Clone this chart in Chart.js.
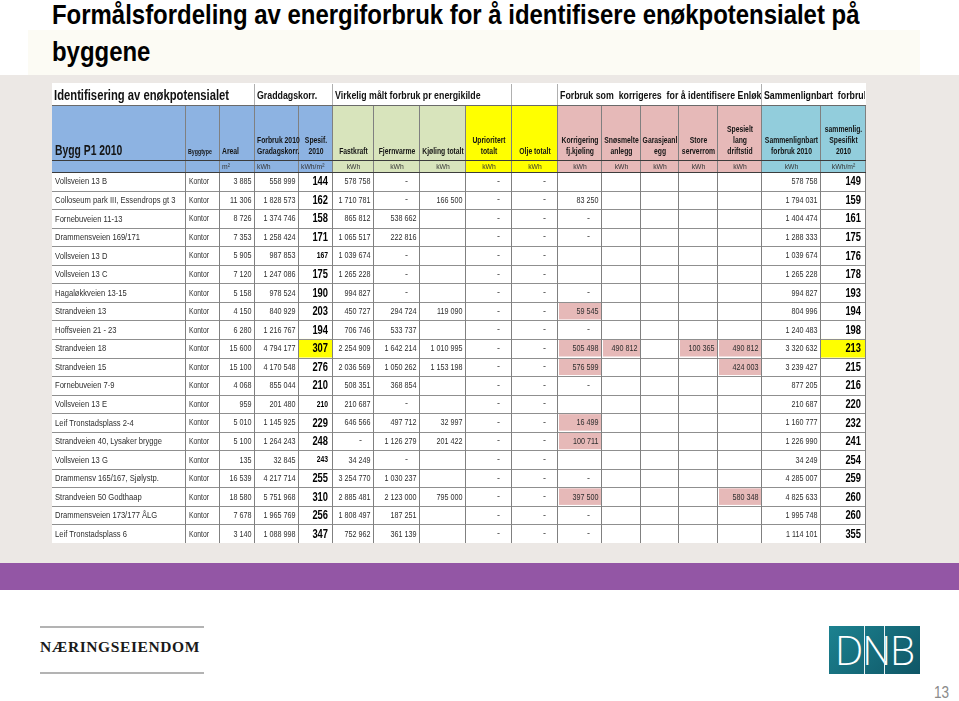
<!DOCTYPE html>
<html lang="no">
<head>
<meta charset="utf-8">
<title>Formålsfordeling av energiforbruk</title>
<script src="https://cdn.jsdelivr.net/npm/chart.js@4.4.1/dist/chart.umd.min.js"></script>
<style>
  body { margin: 0; width: 959px; height: 701px; position: relative; overflow: hidden; background: #fff; }
  #titlebg { position: absolute; left: 28px; top: 30px; width: 892px; height: 45px; background: #fcfbf4; }
  #title { position: absolute; left: 52px; top: -4px; width: 1000px; font: bold 28px "Liberation Sans", Arial, sans-serif; line-height: 37px; color: #000; transform: scaleX(0.855); transform-origin: 0 0; }
  #bg { position: absolute; left: 0; top: 75px; width: 959px; height: 488px; background: #ece8e5; }
  #band { position: absolute; left: 0; top: 563px; width: 959px; height: 27px; background: #9356a5; }
  #tablebox { position: absolute; left: 52px; top: 83px; width: 814px; height: 460px; background: #fff; }
  .rule { position: absolute; left: 40px; width: 164px; height: 2px; background: #b3b3b3; }
  #brand { position: absolute; left: 40px; top: 638px; font: 600 15.5px "Liberation Serif", "DejaVu Serif", serif; letter-spacing: 0.6px; color: #1a1a1a; }
  #dnb { position: absolute; left: 829px; top: 626px; width: 91px; height: 48px; background: linear-gradient(135deg, #1c8290, #0f5666); color: #fff; font: 300 40px "Open Sans", sans-serif; line-height: 48px; text-align: center; letter-spacing: -1px; }
  #dnb i { position: absolute; top: 0; width: 1px; height: 48px; background: #e8f2f4; }
  #page { position: absolute; left: 934px; top: 683px; font: 17px "Liberation Sans", sans-serif; color: #8a8a8a; transform: scaleX(0.8); transform-origin: 0 0; }
</style>
</head>
<body>
<div id="titlebg"></div>
<div id="title">Formålsfordeling av energiforbruk for å identifisere enøkpotensialet på<br>byggene</div>
<div id="bg"></div>
<div id="band"></div>
<div id="tablebox"><canvas id="tableChart" width="814" height="460"></canvas></div>
<div class="rule" style="top:626px"></div>
<div id="brand">NÆRINGSEIENDOM</div>
<div class="rule" style="top:672px"></div>
<div id="dnb">DNB<i style="left:35px"></i><i style="left:55px"></i></div>
<div id="page">13</div>

<script>
const bygg = ['Vollsveien 13 B', 'Colloseum park III, Essendrops gt 3', 'Fornebuveien 11-13', 'Drammensveien 169/171',
  'Vollsveien 13 D', 'Vollsveien 13 C', 'Hagaløkkveien 13-15', 'Strandveien 13', 'Hoffsveien 21 - 23', 'Strandveien 18',
  'Strandveien 15', 'Fornebuveien 7-9', 'Vollsveien 13 E', 'Leif Tronstadsplass 2-4', 'Strandveien 40, Lysaker brygge',
  'Vollsveien 13 G', 'Drammensv 165/167, Sjølystp.', 'Strandveien 50 Godthaap', 'Drammensveien 173/177 ÅLG', 'Leif Tronstadsplass 6'];
const byggtype = ['Kontor', 'Kontor', 'Kontor', 'Kontor', 'Kontor', 'Kontor', 'Kontor', 'Kontor', 'Kontor', 'Kontor',
  'Kontor', 'Kontor', 'Kontor', 'Kontor', 'Kontor', 'Kontor', 'Kontor', 'Kontor', 'Kontor', 'Kontor'];
const areal = [3885, 11306, 8726, 7353, 5905, 7120, 5158, 4150, 6280, 15600, 15100, 4068, 959, 5010, 5100, 135, 16539, 18580, 7678, 3140];
const forbrukGradkorr = [558999, 1828573, 1374746, 1258424, 987853, 1247086, 978524, 840929, 1216767, 4794177,
  4170548, 855044, 201480, 1145925, 1264243, 32845, 4217714, 5751968, 1965769, 1088998];
const spesif2010 = [144, 162, 158, 171, 167, 175, 190, 203, 194, 307, 276, 210, 210, 229, 248, 243, 255, 310, 256, 347];
// 0 = "-" in the sheet, null = empty cell
const fastkraft = [578758, 1710781, 865812, 1065517, 1039674, 1265228, 994827, 450727, 706746, 2254909,
  2036569, 508351, 210687, 646566, 0, 34249, 3254770, 2885481, 1808497, 752962];
const fjernvarme = [0, 0, 538662, 222816, 0, 0, 0, 294724, 533737, 1642214,
  1050262, 368854, 0, 497712, 1126279, 0, 1030237, 2123000, 187251, 361139];
const kjoling = [null, 166500, null, null, null, null, null, 119090, null, 1010995,
  1153198, null, null, 32997, 201422, null, null, 795000, null, null];
const uprioritert = [0, 0, 0, 0, 0, 0, 0, 0, 0, 0, 0, 0, 0, 0, 0, 0, 0, 0, 0, 0];
const olje = [0, 0, 0, 0, 0, 0, 0, 0, 0, 0, 0, 0, 0, 0, 0, 0, 0, 0, 0, 0];
const korrFjKjoling = [null, 83250, 0, 0, null, null, 0, 59545, 0, 505498,
  576599, 0, null, 16499, 100711, null, 0, 397500, 0, 0];
const snosmelte = [null, null, null, null, null, null, null, null, null, 490812,
  null, null, null, null, null, null, null, null, null, null];
const garasje = [null, null, null, null, null, null, null, null, null, null,
  null, null, null, null, null, null, null, null, null, null];
const serverrom = [null, null, null, null, null, null, null, null, null, 100365,
  null, null, null, null, null, null, null, null, null, null];
const driftstid = [null, null, null, null, null, null, null, null, null, 490812,
  424003, null, null, null, null, null, null, 580348, null, null];
const sammenlignbart = [578758, 1794031, 1404474, 1288333, 1039674, 1265228, 994827, 804996, 1240483, 3320632,
  3239427, 877205, 210687, 1160777, 1226990, 34249, 4285007, 4825633, 1995748, 1114101];
const sammenligSpesif = [149, 159, 161, 175, 176, 178, 193, 194, 198, 213, 215, 216, 220, 232, 241, 254, 259, 260, 260, 355];

const headers = [['Bygg P1 2010'], ['Byggtype'], ['Areal'], ['Forbruk 2010', 'Gradagskorr.'], ['Spesif.', '2010'],
  ['Fastkraft'], ['Fjernvarme'], ['Kjøling totalt'], ['Uprioritert', 'totalt'], ['Olje totalt'],
  ['Korrigering', 'fj.kjøling'], ['Snøsmelte', 'anlegg'], ['Garasjeanl', 'egg'], ['Store', 'serverrom'],
  ['Spesielt', 'lang', 'driftstid'], ['Sammenlignbart', 'forbruk 2010'], ['sammenlig.', 'Spesifikt', '2010']];
const units = ['', '', 'm²', 'kWh', 'kWh/m²', 'kWh', 'kWh', 'kWh', 'kWh', 'kWh', 'kWh', 'kWh', 'kWh', 'kWh', 'kWh', 'kWh', 'kWh/m²'];
const groups = [['Identifisering av enøkpotensialet', 0], ['Graddagskorr.', 3], ['Virkelig målt forbruk pr energikilde', 5],
  ['', 9], ['Forbruk som  korrigeres  for å identifisere Enløkp', 10], ['Sammenlignbart  forbruk', 15]];

const columns = [bygg, byggtype, areal, forbrukGradkorr, spesif2010, fastkraft, fjernvarme, kjoling, uprioritert, olje,
  korrFjKjoling, snosmelte, garasje, serverrom, driftstid, sammenlignbart, sammenligSpesif];

// --- layout / style ---
const colWidths = [134, 34, 35, 44, 34, 41, 46, 46, 46, 46, 44, 39, 38, 39, 44, 59, 45];
const headColors = ['#8db3e2', '#8db3e2', '#8db3e2', '#8db3e2', '#8db3e2', '#d8e4bc', '#d8e4bc', '#d8e4bc', '#ffff00', '#ffff00',
  '#e6b9b8', '#e6b9b8', '#e6b9b8', '#e6b9b8', '#e6b9b8', '#92cddc', '#92cddc'];
const yellowCells = [[9, 4], [9, 16]];
const pinkCells = [[7, 10], [9, 10], [9, 11], [9, 13], [9, 14], [10, 10], [10, 14], [13, 10], [14, 10], [17, 10], [17, 14]];
const smallSpesif = [4, 12, 15];
const SANS = '"Liberation Sans", Arial, sans-serif';

const edges = [0];
colWidths.forEach(w => edges.push(edges[edges.length - 1] + w));

function fmt(v) {
  if (v === null) return '';
  if (v === 0) return '-';
  if (typeof v === 'string') return v;
  return String(v).replace(/\B(?=(\d{3})+(?!\d))/g, ' ');
}

// condensed text: squeeze horizontally to mimic the narrow sheet font
function narrowText(ctx, txt, x, y, align, sx) {
  const w = ctx.measureText(txt).width * sx;
  let x0 = x;
  if (align === 'right') x0 = x - w;
  else if (align === 'center') x0 = x - w / 2;
  ctx.save();
  ctx.translate(x0, y);
  ctx.scale(sx, 1);
  ctx.textAlign = 'left';
  ctx.fillText(txt, 0, 0);
  ctx.restore();
}

const datasets = columns.map((col, c) => ({
  label: headers[c].join(' '),
  data: col.map((v, r) => ({ x: (edges[c] + edges[c + 1]) / 2, y: r + 0.5, v: v })),
  pointRadius: 0
}));

const tablePlugin = {
  id: 'tableDraw',
  beforeDatasetsDraw(chart) {
    const { ctx, chartArea, scales: { x, y } } = chart;
    const px = edges.map(e => x.getPixelForValue(e));
    const t = chartArea.top - 89;
    ctx.save();
    for (let c = 0; c < colWidths.length; c++) {
      ctx.fillStyle = headColors[c];
      ctx.fillRect(px[c], t + 22, px[c + 1] - px[c], 67);
    }
    yellowCells.forEach(([r, c]) => {
      ctx.fillStyle = '#ffff00';
      ctx.fillRect(px[c], y.getPixelForValue(r), px[c + 1] - px[c], y.getPixelForValue(r + 1) - y.getPixelForValue(r));
    });
    pinkCells.forEach(([r, c]) => {
      ctx.fillStyle = '#e6b9b8';
      ctx.fillRect(px[c] + 1, y.getPixelForValue(r) + 1, px[c + 1] - px[c] - 2, y.getPixelForValue(r + 1) - y.getPixelForValue(r) - 2);
    });
    ctx.lineWidth = 1;
    ctx.strokeStyle = '#8f8f8f';
    for (let r = 1; r <= 20; r++) {
      const yy = Math.round(y.getPixelForValue(r)) + 0.5;
      ctx.beginPath(); ctx.moveTo(px[0], yy); ctx.lineTo(px[17], yy); ctx.stroke();
    }
    ctx.strokeStyle = '#808080';
    for (let c = 1; c < px.length; c++) {
      const xx = Math.round(px[c]) - 0.5;
      ctx.beginPath(); ctx.moveTo(xx, t + 22); ctx.lineTo(xx, chartArea.bottom); ctx.stroke();
    }
    ctx.strokeStyle = '#b0b0b0';
    groups.forEach(([, c]) => {
      if (c === 0) return;
      const xx = Math.round(px[c]) - 0.5;
      ctx.beginPath(); ctx.moveTo(xx, t + 1); ctx.lineTo(xx, t + 22); ctx.stroke();
    });
    ctx.strokeStyle = '#3c3c3c';
    [t + 77.5, t + 89.5].forEach(yy => {
      ctx.beginPath(); ctx.moveTo(px[0], yy); ctx.lineTo(px[17], yy); ctx.stroke();
    });
    ctx.strokeStyle = '#6a6a6a';
    ctx.beginPath(); ctx.moveTo(px[0], t + 22.5); ctx.lineTo(px[17], t + 22.5); ctx.stroke();

    // group titles
    ctx.fillStyle = '#111';
    ctx.textBaseline = 'alphabetic';
    groups.forEach(([label, c], i) => {
      ctx.save();
      ctx.beginPath();
      const end = i < groups.length - 1 ? groups[i + 1][1] : 17;
      ctx.rect(px[c], t, px[end] - px[c] - 1, 22);
      ctx.clip();
      ctx.font = i === 0 ? 'bold 15px ' + SANS : 'bold 11px ' + SANS;
      narrowText(ctx, label, px[c] + 2, t + (i === 0 ? 17 : 16), 'left', i === 0 ? 0.75 : 0.8);
      ctx.restore();
    });

    // column headers
    headers.forEach((lines, c) => {
      const mid = (px[c] + px[c + 1]) / 2;
      ctx.fillStyle = '#151515';
      if (c === 0) {
        ctx.font = 'bold 14px ' + SANS;
        narrowText(ctx, lines[0], px[c] + 3, t + 72, 'left', 0.74);
      } else {
        ctx.font = c === 1 ? 'bold 7px ' + SANS : 'bold 8.5px ' + SANS;
        const left = c <= 3;
        lines.forEach((ln, k) => {
          const yy = t + 71 - (lines.length - 1 - k) * 11;
          narrowText(ctx, ln, left ? px[c] + 2 : mid, yy, left ? 'left' : 'center', c === 1 ? 0.75 : 0.8);
        });
      }
      ctx.font = '8px ' + SANS;
      ctx.fillStyle = '#333';
      const leftU = c >= 2 && c <= 4;
      narrowText(ctx, units[c], leftU ? px[c] + 2 : mid, t + 86, leftU ? 'left' : 'center', 0.85);
    });
    ctx.restore();
  },
  afterDatasetsDraw(chart) {
    const { ctx } = chart;
    const px = edges.map(e => chart.scales.x.getPixelForValue(e));
    ctx.save();
    ctx.textBaseline = 'middle';
    chart.data.datasets.forEach((ds, c) => {
      const meta = chart.getDatasetMeta(c);
      meta.data.forEach((pt, r) => {
        const txt = fmt(ds.data[r].v);
        if (!txt) return;
        let sx = 0.8;
        if (c === 4 || c === 16) {
          const small = c === 4 && smallSpesif.includes(r);
          ctx.font = small ? 'bold 8.5px ' + SANS : 'bold 13px ' + SANS;
          ctx.fillStyle = '#000';
          sx = small ? 0.8 : 0.72;
        } else {
          ctx.font = (c === 0 ? '9.5px ' : '9px ') + SANS;
          ctx.fillStyle = '#2e2e2e';
          if (c === 0) sx = 0.8;
          if (c === 1) sx = 0.75;
        }
        if (c <= 1) {
          narrowText(ctx, txt, px[c] + 3, pt.y + 0.5, 'left', sx);
        } else if (txt === '-') {
          narrowText(ctx, txt, px[c + 1] - 12, pt.y, 'right', 1);
        } else {
          narrowText(ctx, txt, px[c + 1] - (c === 4 || c === 16 ? 5 : 3.5), pt.y + 0.5, 'right', sx);
        }
      });
    });
    ctx.restore();
  }
};

new Chart(document.getElementById('tableChart'), {
  type: 'scatter',
  data: { datasets: datasets },
  options: {
    responsive: false,
    animation: false,
    devicePixelRatio: 1,
    layout: { padding: { top: 89, left: 0, right: 0, bottom: 0 } },
    plugins: { legend: { display: false }, tooltip: { enabled: false }, title: { display: false } },
    scales: {
      x: { type: 'linear', min: 0, max: edges[edges.length - 1], display: false },
      y: { type: 'linear', min: 0, max: 20, reverse: true, display: false }
    }
  },
  plugins: [tablePlugin]
});
</script>
</body>
</html>
